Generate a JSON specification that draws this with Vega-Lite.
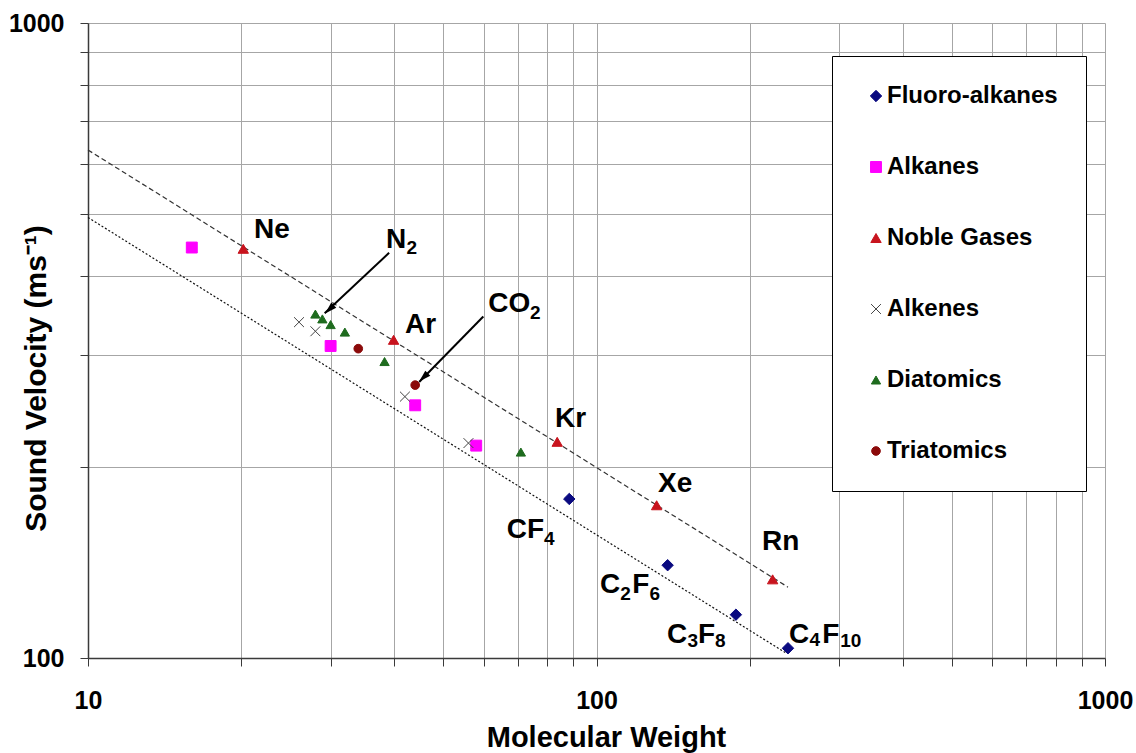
{
  "$schema": "https://vega.github.io/schema/vega-lite/v6.json",
  "width": 1017,
  "height": 635,
  "autosize": "none",
  "padding": {"left": 88, "top": 23, "right": 31, "bottom": 95},
  "background": "white",
  "config": {
    "font": "Liberation Sans",
    "view": {"stroke": null},
    "axis": {
      "labelFont": "Liberation Sans", "labelFontWeight": "bold", "labelFontSize": 25, "labelColor": "black",
      "titleFont": "Liberation Sans", "titleFontWeight": "bold", "titleFontSize": 29, "titleColor": "black",
      "gridColor": "#a6a6a6", "gridWidth": 1, "gridOpacity": 1,
      "domainColor": "#3a3a3a", "domainWidth": 1.5,
      "tickColor": "#3a3a3a", "tickSize": 8, "tickWidth": 1,
      "labelOverlap": false, "labelFlush": false
    }
  },
  "datasets": {
    "points": [
      {"series": "Fluoro-alkanes", "mw": 88.4, "v": 178},
      {"series": "Fluoro-alkanes", "mw": 138, "v": 140},
      {"series": "Fluoro-alkanes", "mw": 188, "v": 117},
      {"series": "Fluoro-alkanes", "mw": 238, "v": 103.6},
      {"series": "Alkanes", "mw": 16, "v": 443},
      {"series": "Alkanes", "mw": 30, "v": 310},
      {"series": "Alkanes", "mw": 44, "v": 250},
      {"series": "Alkanes", "mw": 58, "v": 216},
      {"series": "Noble Gases", "mw": 20.2, "v": 441},
      {"series": "Noble Gases", "mw": 39.9, "v": 317},
      {"series": "Noble Gases", "mw": 83.7, "v": 219},
      {"series": "Noble Gases", "mw": 131.3, "v": 174},
      {"series": "Noble Gases", "mw": 222, "v": 133},
      {"series": "Alkenes", "mw": 26, "v": 338},
      {"series": "Alkenes", "mw": 28, "v": 327},
      {"series": "Alkenes", "mw": 42, "v": 258},
      {"series": "Alkenes", "mw": 56, "v": 218},
      {"series": "Diatomics", "mw": 28, "v": 348},
      {"series": "Diatomics", "mw": 28.9, "v": 342},
      {"series": "Diatomics", "mw": 30, "v": 335},
      {"series": "Diatomics", "mw": 32, "v": 326},
      {"series": "Diatomics", "mw": 38.3, "v": 293},
      {"series": "Diatomics", "mw": 71, "v": 211},
      {"series": "Triatomics", "mw": 34, "v": 307},
      {"series": "Triatomics", "mw": 44, "v": 269}
    ],
    "lines": [
      {"line": "upper", "mw": 10, "v": 631},
      {"line": "upper", "mw": 238, "v": 129.3},
      {"line": "lower", "mw": 10, "v": 494},
      {"line": "lower", "mw": 235, "v": 102}
    ],
    "labels": [
      {"kind": "main", "text": "Ne", "mw": 21.2, "v": 458.6},
      {"kind": "main", "text": "N", "mw": 38.55, "v": 441.8},
      {"kind": "sub", "text": "2", "mw": 42.3, "v": 432.7},
      {"kind": "main", "text": "Ar", "mw": 42.0, "v": 324.9},
      {"kind": "main", "text": "CO", "mw": 61.27, "v": 351.0},
      {"kind": "sub", "text": "2", "mw": 74.0, "v": 341.5},
      {"kind": "main", "text": "Kr", "mw": 82.9, "v": 231.1},
      {"kind": "main", "text": "Xe", "mw": 132.1, "v": 182.5},
      {"kind": "main", "text": "Rn", "mw": 211.6, "v": 147.9},
      {"kind": "main", "text": "CF", "mw": 66.6, "v": 154.3},
      {"kind": "sub", "text": "4", "mw": 78.8, "v": 150.6},
      {"kind": "main", "text": "C", "mw": 101.6, "v": 126.6},
      {"kind": "sub", "text": "2", "mw": 111.4, "v": 123.4},
      {"kind": "main", "text": "F", "mw": 117.6, "v": 126.6},
      {"kind": "sub", "text": "6", "mw": 127.1, "v": 123.4},
      {"kind": "main", "text": "C", "mw": 137.6, "v": 105.5},
      {"kind": "sub", "text": "3", "mw": 151.0, "v": 104.1},
      {"kind": "main", "text": "F", "mw": 158.3, "v": 105.5},
      {"kind": "sub", "text": "8", "mw": 171.0, "v": 104.1},
      {"kind": "main", "text": "C", "mw": 239.1, "v": 105.6},
      {"kind": "sub", "text": "4", "mw": 262.3, "v": 104.4},
      {"kind": "main", "text": "F", "mw": 278.0, "v": 105.6},
      {"kind": "sub", "text": "10", "mw": 301.6, "v": 104.1}
    ],
    "arrows": [
      {"name": "N2", "mw": 39.1, "v": 434.6, "mw2": 29.2, "v2": 349, "hx": 29.84, "hy": 354.2},
      {"name": "CO2", "mw": 59.9, "v": 345, "mw2": 44.8, "v2": 272, "hx": 45.68, "hy": 276.6}
    ]
  },
  "layer": [
    {
      "data": {"name": "lines"},
      "transform": [{"filter": "datum.line == 'upper'"}],
      "mark": {"type": "line", "color": "#333333", "strokeWidth": 1.2, "strokeDash": [5, 3]},
      "encoding": {
        "x": {"field": "mw", "type": "quantitative", "scale": {"type": "log", "domain": [10, 1000], "nice": false},
          "axis": {"title": "Molecular Weight",
            "values": [10,20,30,40,50,60,70,80,90,100,200,300,400,500,600,700,800,900,1000],
            "labelExpr": "datum.value == 10 || datum.value == 100 || datum.value == 1000 ? format(datum.value, 'd') : ''",
            "labelPadding": 22, "titleX": 518, "titleY": 88, "titleBaseline": "alphabetic", "titleAlign": "center", "titleAnchor": null}},
        "y": {"field": "v", "type": "quantitative", "scale": {"type": "log", "domain": [100, 1000], "nice": false},
          "axis": {"title": "Sound Velocity (ms⁻¹)",
            "values": [100,200,300,400,500,600,700,800,900,1000],
            "labelExpr": "datum.value == 100 || datum.value == 1000 ? format(datum.value, 'd') : ''",
            "labelPadding": 16, "titleX": -43, "titleY": 355, "titleFontSize": 30, "titleBaseline": "alphabetic", "titleAlign": "center", "titleAngle": -90, "titleAnchor": null}}
      }
    },
    {
      "data": {"name": "lines"},
      "transform": [{"filter": "datum.line == 'lower'"}],
      "mark": {"type": "line", "color": "#111111", "strokeWidth": 1.2, "strokeDash": [2, 2]},
      "encoding": {
        "x": {"field": "mw", "type": "quantitative"},
        "y": {"field": "v", "type": "quantitative"}
      }
    },
    {
      "data": {"name": "points"},
      "mark": {"type": "point", "filled": true, "opacity": 1, "strokeWidth": 1},
      "encoding": {
        "x": {"field": "mw", "type": "quantitative"},
        "y": {"field": "v", "type": "quantitative"},
        "color": {"field": "series", "type": "nominal",
          "scale": {"domain": ["Fluoro-alkanes","Alkanes","Noble Gases","Alkenes","Diatomics","Triatomics"],
                    "range": ["#0a0a80","#ff00ff","#c8141e","#444444","#1e6b1e","#8b0a0a"]},
          "legend": {"title": null, "orient": "none", "legendX": 744, "legendY": 33, "padding": 28,
            "labelOffset": -1, "symbolOffset": 4, "rowPadding": 47,
            "labelFont": "Liberation Sans", "labelFontSize": 24, "labelFontWeight": "bold", "labelColor": "black",
            "strokeColor": "black", "fillColor": "white", "symbolSize": 80, "symbolStrokeWidth": 1, "labelLimit": 400}},
        "shape": {"field": "series", "type": "nominal",
          "scale": {"domain": ["Fluoro-alkanes","Alkanes","Noble Gases","Alkenes","Diatomics","Triatomics"],
                    "range": ["diamond","square","triangle-up","M-1,-1L1,1M-1,1L1,-1","triangle-up","circle"]}},
        "stroke": {"field": "series", "type": "nominal",
          "scale": {"domain": ["Fluoro-alkanes","Alkanes","Noble Gases","Alkenes","Diatomics","Triatomics"],
                    "range": ["#0a0a80","#ff00ff","#c8141e","#444444","#1e6b1e","#8b0a0a"]}},
        "size": {"field": "series", "type": "nominal", "legend": null,
          "scale": {"domain": ["Fluoro-alkanes","Alkanes","Noble Gases","Alkenes","Diatomics","Triatomics"],
                    "range": [130, 75, 145, 110, 145, 85]}}
      }
    },
    {
      "data": {"name": "arrows"},
      "mark": {"type": "rule", "color": "black", "strokeWidth": 2},
      "encoding": {
        "x": {"field": "mw", "type": "quantitative"},
        "y": {"field": "v", "type": "quantitative"},
        "x2": {"field": "mw2"},
        "y2": {"field": "v2"}
      }
    },
    {
      "data": {"name": "arrows"},
      "mark": {"type": "point", "filled": true, "opacity": 1, "color": "black", "shape": "M0,-1L0.6,1L-0.6,1Z", "size": 144, "angle": 226},
      "encoding": {
        "x": {"field": "hx", "type": "quantitative"},
        "y": {"field": "hy", "type": "quantitative"}
      }
    },
    {
      "data": {"name": "labels"},
      "transform": [{"filter": "datum.kind == 'main'"}],
      "mark": {"type": "text", "align": "left", "baseline": "alphabetic", "font": "Liberation Sans", "fontWeight": "bold", "fontSize": 28, "color": "black"},
      "encoding": {
        "x": {"field": "mw", "type": "quantitative"},
        "y": {"field": "v", "type": "quantitative"},
        "text": {"field": "text"}
      }
    },
    {
      "data": {"name": "labels"},
      "transform": [{"filter": "datum.kind == 'sub'"}],
      "mark": {"type": "text", "align": "left", "baseline": "alphabetic", "font": "Liberation Sans", "fontWeight": "bold", "fontSize": 19, "color": "black"},
      "encoding": {
        "x": {"field": "mw", "type": "quantitative"},
        "y": {"field": "v", "type": "quantitative"},
        "text": {"field": "text"}
      }
    }
  ]
}
